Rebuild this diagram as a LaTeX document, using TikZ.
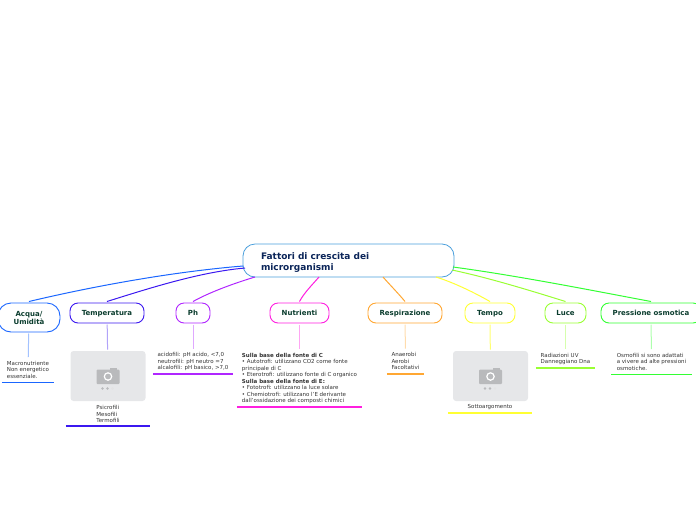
\documentclass[tikz,border=0pt]{standalone}
\usepackage{fontspec}
\setmainfont{DejaVu Sans}
\usepackage{xcolor}
\usetikzlibrary{positioning}

\definecolor{acquacol}{HTML}{1A66FF}
\definecolor{tempcol}{HTML}{3B18F0}
\definecolor{phcol}{HTML}{B026FF}
\definecolor{nutcol}{HTML}{FF1FE0}
\definecolor{respcol}{HTML}{FFA733}
\definecolor{tempocol}{HTML}{FFFF33}
\definecolor{lucecol}{HTML}{99FF33}
\definecolor{prescol}{HTML}{33FF33}
\definecolor{rootcol}{HTML}{4A9FDC}
\definecolor{roottext}{HTML}{0B2559}
\definecolor{topictext}{HTML}{0B3D2E}
\definecolor{leaftext}{HTML}{333333}
\definecolor{photofill}{HTML}{E6E7E9}
\definecolor{iconfill}{HTML}{B9BABC}

\tikzset{
    cameraicon/.pic={
        \fill[iconfill, rounded corners=1pt] (-11.5,-6.5) rectangle (11.5,8);
        \fill[iconfill] (2,-8) rectangle (9,-6);
        \draw[white, line width=1.2pt] (0,0.5) circle (3.7);
        \fill[iconfill] (-5.5,12.5) circle (1.4);
        \fill[iconfill] (-0.5,12.5) circle (1.4);
        \fill[iconfill!40] (4.5,12.5) circle (1.4);
    }
}

\begin{document}
\begin{tikzpicture}[
    x=1pt, y=-1pt,
    root/.style={draw=rootcol, line width=0.8pt, rounded corners=12pt, fill=white, minimum width=211pt, minimum height=33pt, align=left, text width=175pt, text depth=8pt, text=roottext, font=\fontsize{9}{10.5}\selectfont\bfseries},
    topic/.style={draw=#1, line width=0.9pt, rounded corners=8pt, fill=white, minimum height=20pt, align=center, inner sep=1pt, outer sep=1.5pt, text depth=0pt, text=topictext, font=\fontsize{7}{8}\selectfont\bfseries},
    leaf/.style={align=left, anchor=south, inner xsep=0pt, inner ysep=3pt, text=leaftext, font=\fontsize{5.5}{6.5}\selectfont},
    photo/.style={fill=photofill, rounded corners=3pt, minimum width=75pt, minimum height=50pt, inner sep=0pt, outer sep=1.5pt},
    branch/.style={line width=1pt},
    stem/.style={line width=1pt},
    underline/.style={line width=1.3pt}
]
\useasboundingbox (0,0) rectangle (696,520);

% Nodes
\node (root) [root] at (348.5,260.5) {Fattori di crescita dei\\microrganismi};
\node (acqua) [topic=acquacol, minimum width=62pt, minimum height=29pt, rounded corners=13pt] at (29,317.5) {Acqua/\\Umidità};
\node (temperatura) [topic=tempcol, minimum width=74pt] at (107,313) {Temperatura};
\node (ph) [topic=phcol, minimum width=34pt] at (193,313) {Ph};
\node (nutrienti) [topic=nutcol, minimum width=59pt] at (299.5,313) {Nutrienti};
\node (respirazione) [topic=respcol, minimum width=74pt] at (405,313) {Respirazione};
\node (tempo) [topic=tempocol, minimum width=50pt] at (490,313) {Tempo};
\node (luce) [topic=lucecol, minimum width=41pt] at (565.5,313) {Luce};
\node (pressione) [topic=prescol, minimum width=100pt] at (651,313) {Pressione osmotica};

\node (acquatext) [leaf, minimum width=52pt, minimum height=25pt, text depth=0pt] at (28,382.5) {Macronutriente\\Non energetico\\essenziale.};
\node (tempphoto) [photo] at (108,376) {};
\pic at (tempphoto) {cameraicon};
\node (temptext) [leaf, minimum width=84pt] at (108,426) {Psicrofili\\Mesofili\\Termofili};
\node (phtext) [leaf, minimum width=80pt, minimum height=25pt, text depth=0pt] at (193,374) {acidofili: pH acido, <7,0\\neutrofili: pH neutro =7\\alcalofili: pH basico, >7,0};
\node (nuttext) [leaf, minimum width=125pt, minimum height=58pt, text depth=0pt] at (299.5,407) {\textbf{Sulla base della fonte di C}\\• Autotrofi: utilizzano CO2 come fonte\\principale di C\\• Eterotrofi: utilizzano fonte di C organico\\\textbf{Sulla base della fonte di E:}\\• Fototrofi: utilizzano la luce solare\\• Chemiotrofi: utilizzano l'E derivante\\dall'ossidazione dei composti chimici};
\node (resptext) [leaf, minimum width=37pt, minimum height=25pt, text depth=0pt] at (405.5,374) {Anaerobi\\Aerobi\\Facoltativi};
\node (tempophoto) [photo] at (490.5,376) {};
\pic at (tempophoto) {cameraicon};
\node (tempotext) [leaf, minimum width=84pt] at (490,413) {Sottoargomento};
\node (lucetext) [leaf, minimum width=59pt, minimum height=19pt, text depth=0pt] at (565.5,368) {Radiazioni UV\\Danneggiano Dna};
\node (prestext) [leaf, minimum width=81pt, minimum height=25pt, text depth=0pt] at (651.5,374.5) {Osmofili si sono adattati\\a vivere ad alte pressioni\\osmotiche.};

\coordinate (rootacqua) at (243,266);
\coordinate (roottemp) at (245,268);
\coordinate (rootph) at (255,277);
\coordinate (rootnut) at (319,277);
\coordinate (rootresp) at (383,277);
\coordinate (roottempo) at (436,277);
\coordinate (rootluce) at (452,270);
\coordinate (rootpres) at (453,267);

% Links
\draw[branch, acquacol] (rootacqua) .. controls (170,272) and (90,287) .. (acqua.north);
\draw[branch, tempcol] (roottemp) .. controls (200,272) and (150,288) .. (temperatura.north);
\draw[branch, phcol] (rootph) .. controls (235,283) and (210,292) .. (ph.north);
\draw[branch, nutcol] (rootnut) .. controls (312,285) and (304,293) .. (nutrienti.north);
\draw[branch, respcol] (rootresp) .. controls (390,285) and (398,293) .. (respirazione.north);
\draw[branch, tempocol] (roottempo) .. controls (455,283) and (475,293) .. (tempo.north);
\draw[branch, lucecol] (rootluce) .. controls (490,278) and (535,292) .. (luce.north);
\draw[branch, prescol] (rootpres) .. controls (520,276) and (600,292) .. (pressione.north);

\draw[stem, acquacol!40] (acqua) -- (acquatext);
\draw[stem, tempcol!40] (temperatura) -- (tempphoto);
\draw[stem, phcol!40] (ph) -- (phtext);
\draw[stem, nutcol!40] (nutrienti) -- (nuttext);
\draw[stem, respcol!40] (respirazione) -- (resptext);
\draw[stem, tempocol!70] (tempo) -- (tempophoto);
\draw[stem, lucecol!40] (luce) -- (lucetext);
\draw[stem, prescol!40] (pressione) -- (prestext);

\draw[underline, acquacol] (acquatext.south west) -- (acquatext.south east);
\draw[underline, tempcol] (temptext.south west) -- (temptext.south east);
\draw[underline, phcol] (phtext.south west) -- (phtext.south east);
\draw[underline, nutcol] (nuttext.south west) -- (nuttext.south east);
\draw[underline, respcol] (resptext.south west) -- (resptext.south east);
\draw[underline, tempocol] (tempotext.south west) -- (tempotext.south east);
\draw[underline, lucecol] (lucetext.south west) -- (lucetext.south east);
\draw[underline, prescol] (prestext.south west) -- (prestext.south east);

\end{tikzpicture}
\end{document}
